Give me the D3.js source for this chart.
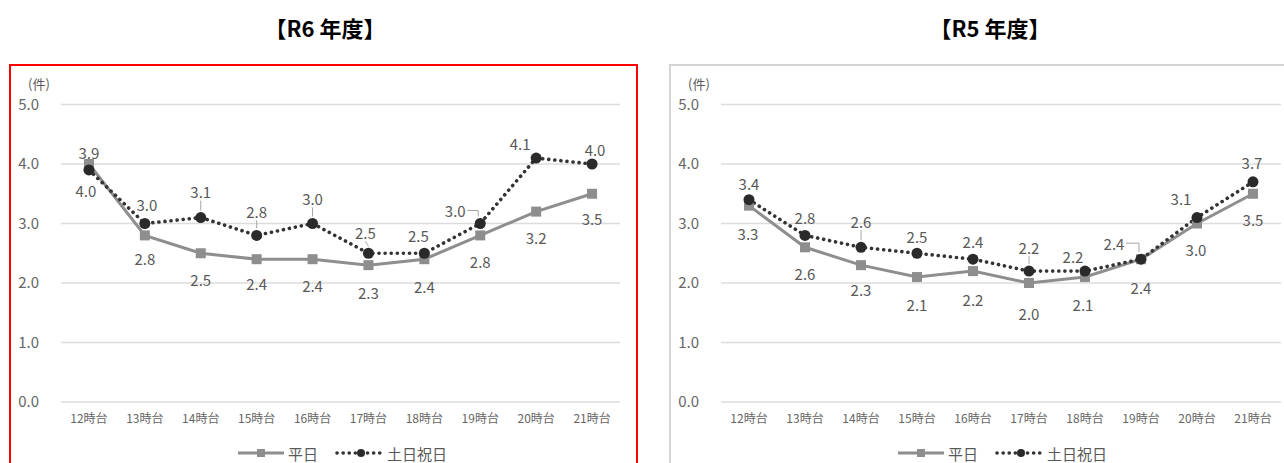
<!DOCTYPE html>
<html>
<head>
<meta charset="utf-8">
<script src="https://cdn.jsdelivr.net/npm/d3@7"></script>
<style>
  html, body { margin: 0; padding: 0; background: #fff; }
  svg { display: block; font-family: "Noto Sans CJK JP", "Noto Sans", sans-serif; }
</style>
</head>
<body>
<svg id="chart" width="1284" height="463"></svg>
<script>
// ---- data ----
const hours = ["12時台", "13時台", "14時台", "15時台", "16時台", "17時台", "18時台", "19時台", "20時台", "21時台"];
const yTicks = [0, 1, 2, 3, 4, 5];
const seriesNames = ["平日", "土日祝日"];
const unitLabel = "(件)";

const r6Title = "【R6 年度】";
const r6Weekday = [4.0, 2.8, 2.5, 2.4, 2.4, 2.3, 2.4, 2.8, 3.2, 3.5];
const r6Holiday = [3.9, 3.0, 3.1, 2.8, 3.0, 2.5, 2.5, 3.0, 4.1, 4.0];

const r5Title = "【R5 年度】";
const r5Weekday = [3.3, 2.6, 2.3, 2.1, 2.2, 2.0, 2.1, 2.4, 3.0, 3.5];
const r5Holiday = [3.4, 2.8, 2.6, 2.5, 2.4, 2.2, 2.2, 2.4, 3.1, 3.7];

// ---- label placement (offsets from point, px) ----
const r6WeekdayLabelOff = [[-3,26],[0,23],[0,26],[0,24],[0,26],[0,27],[0,27],[0,26],[0,26],[0,25]];
const r6HolidayLabelOff = [[0,-17],[2,-19],[0,-26],[0,-24],[0,-25],[-3,-21],[-6,-18],[-25,-13],[-16,-15],[3,-15]];
const r6Leaders = [2, 3, 4, 5, 7];
const r5WeekdayLabelOff = [[-1,28],[0,26],[0,24],[0,27],[0,28],[0,30],[-2,27],[0,28],[-1,26],[0,26]];
const r5HolidayLabelOff = [[0,-16],[0,-18],[0,-26],[0,-17],[0,-18],[0,-24],[-12,-15],[-27,-16],[-16,-19],[-1,-19]];
const r5Leaders = [2, 5, 7];

const svg = d3.select("#chart");

function drawPanel(cfg) {
  const g = svg.append("g");

  // border
  g.append("rect")
    .attr("x", cfg.box[0]).attr("y", cfg.box[1])
    .attr("width", cfg.box[2]).attr("height", cfg.box[3])
    .attr("fill", "#fff")
    .attr("stroke", cfg.borderColor).attr("stroke-width", 2);

  // title
  g.append("text")
    .attr("x", cfg.titleX).attr("y", 27)
    .attr("text-anchor", "middle").attr("dominant-baseline", "central")
    .attr("font-size", 22).attr("font-weight", "bold").attr("fill", "#000")
    .attr("font-family", "'Noto Sans CJK JP', sans-serif")
    .text(cfg.title);

  const x = d3.scaleBand().domain(hours).range(cfg.xRange).paddingInner(0).paddingOuter(0);
  const y = d3.scaleLinear().domain([0, 5]).range([402, 104.5]);
  const cx = d => x(d) + x.bandwidth() / 2;

  // gridlines
  g.append("g").selectAll("line").data(yTicks).join("line")
    .attr("x1", cfg.xRange[0]).attr("x2", cfg.xRange[1])
    .attr("y1", d => y(d)).attr("y2", d => y(d))
    .attr("stroke", "#dcdcdc").attr("stroke-width", 1.6);

  // y axis labels
  const yAxis = d3.axisLeft(y).tickValues(yTicks).tickFormat(d3.format(".1f")).tickSize(0).tickPadding(0);
  const ya = g.append("g").attr("transform", `translate(${cfg.yLabelX},0)`).call(yAxis);
  ya.select(".domain").remove();
  ya.selectAll("text").attr("font-size", 15).attr("fill", "#666")
    .attr("font-family", "'Noto Sans CJK JP', sans-serif");

  // unit
  g.append("text").attr("x", cfg.unitX).attr("y", 83)
    .attr("text-anchor", "middle").attr("dominant-baseline", "central")
    .attr("font-size", 13).attr("fill", "#595959").text(unitLabel);

  // x axis labels
  const xAxis = d3.axisBottom(x).tickSize(0).tickPadding(0);
  const xa = g.append("g").attr("transform", "translate(0,414)").call(xAxis);
  xa.select(".domain").remove();
  xa.selectAll("text").attr("font-size", 12).attr("fill", "#666")
    .attr("font-family", "'Noto Sans CJK JP', sans-serif");

  const line = d3.line().x((d, i) => cx(hours[i])).y(d => y(d));

  // weekday line
  g.append("path").datum(cfg.weekday).attr("d", line)
    .attr("fill", "none").attr("stroke", "#8e8e8e").attr("stroke-width", 3);
  // holiday line
  g.append("path").datum(cfg.holiday).attr("d", line)
    .attr("fill", "none").attr("stroke", "#333").attr("stroke-width", 3.6)
    .attr("stroke-linecap", "round").attr("stroke-dasharray", "0.1 6");

  // weekday markers
  g.append("g").selectAll("rect").data(cfg.weekday).join("rect")
    .attr("x", (d, i) => cx(hours[i]) - 5).attr("y", d => y(d) - 5)
    .attr("width", 10).attr("height", 10).attr("fill", "#8e8e8e");
  // holiday markers
  g.append("g").selectAll("circle").data(cfg.holiday).join("circle")
    .attr("cx", (d, i) => cx(hours[i])).attr("cy", d => y(d)).attr("r", 5.5)
    .attr("fill", "#2a2a2a");

  // leader lines
  g.append("g").selectAll("path").data(cfg.leaders).join("path")
    .attr("d", i => {
      const px = cx(hours[i]), py = y(cfg.holiday[i]);
      const o = cfg.holidayOff[i];
      if (Math.abs(o[0]) > 10) {
        const lx = px + o[0] + 12, ly = py + o[1];
        return `M${lx},${ly} L${px - 2},${ly} L${px - 2},${py - 7}`;
      }
      return `M${px + o[0]},${py + o[1] + 9} L${px},${py - 7}`;
    })
    .attr("fill", "none").attr("stroke", "#a6a6a6").attr("stroke-width", 1);

  // value labels
  const fmt = d3.format(".1f");
  g.append("g").selectAll("text").data(cfg.weekday).join("text")
    .attr("x", (d, i) => cx(hours[i]) + cfg.weekdayOff[i][0])
    .attr("y", (d, i) => y(d) + cfg.weekdayOff[i][1])
    .attr("text-anchor", "middle").attr("dominant-baseline", "central")
    .attr("font-size", 15).attr("fill", "#595959").text(d => fmt(d));
  g.append("g").selectAll("text").data(cfg.holiday).join("text")
    .attr("x", (d, i) => cx(hours[i]) + cfg.holidayOff[i][0])
    .attr("y", (d, i) => y(d) + cfg.holidayOff[i][1])
    .attr("text-anchor", "middle").attr("dominant-baseline", "central")
    .attr("font-size", 15).attr("fill", "#595959").text(d => fmt(d));

  // legend
  const ly = 453;
  const lg = g.append("g");
  const l1 = cfg.legendX;
  lg.append("line").attr("x1", l1).attr("x2", l1 + 46).attr("y1", ly).attr("y2", ly)
    .attr("stroke", "#8e8e8e").attr("stroke-width", 3);
  lg.append("rect").attr("x", l1 + 19).attr("y", ly - 4).attr("width", 8).attr("height", 8).attr("fill", "#8e8e8e");
  lg.append("text").attr("x", l1 + 50).attr("y", ly).attr("dominant-baseline", "central")
    .attr("font-size", 15).attr("fill", "#595959").text(seriesNames[0]);
  const l2 = l1 + 99;
  lg.append("line").attr("x1", l2).attr("x2", l2 + 48).attr("y1", ly).attr("y2", ly)
    .attr("stroke", "#333").attr("stroke-width", 3.6)
    .attr("stroke-linecap", "round").attr("stroke-dasharray", "0.1 6");
  lg.append("circle").attr("cx", l2 + 24).attr("cy", ly).attr("r", 4).attr("fill", "#2a2a2a");
  lg.append("text").attr("x", l2 + 50).attr("y", ly).attr("dominant-baseline", "central")
    .attr("font-size", 15).attr("fill", "#595959").text(seriesNames[1]);
}

drawPanel({
  title: r6Title, titleX: 325,
  box: [10, 65, 627, 410], borderColor: "#ff0000",
  xRange: [61, 620], yLabelX: 39, unitX: 39,
  weekday: r6Weekday, holiday: r6Holiday,
  weekdayOff: r6WeekdayLabelOff, holidayOff: r6HolidayLabelOff, leaders: r6Leaders,
  legendX: 238
});

drawPanel({
  title: r5Title, titleX: 990,
  box: [670, 65, 640, 410], borderColor: "#d4d4d4",
  xRange: [721, 1281], yLabelX: 699, unitX: 699,
  weekday: r5Weekday, holiday: r5Holiday,
  weekdayOff: r5WeekdayLabelOff, holidayOff: r5HolidayLabelOff, leaders: r5Leaders,
  legendX: 898
});
</script>
</body>
</html>
